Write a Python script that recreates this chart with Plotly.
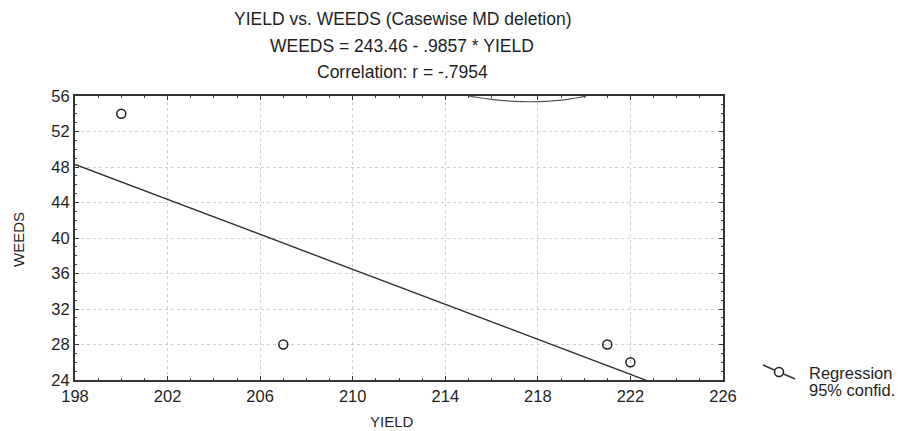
import plotly.graph_objects as go

# ---- data ----
yield_vals = [200, 207, 221, 222]
weeds_vals = [54, 28, 28, 26]
reg_intercept = 243.46
reg_slope = -0.9857
reg_x = [198, 226]
# visible part of the upper 95% confidence curve
conf_x = [215.0, 216.0, 217.0, 217.6, 218.5, 219.3, 220.1]
conf_upper = [56.0, 55.62, 55.40, 55.35, 55.42, 55.62, 56.0]
x_ticks = [198, 202, 206, 210, 214, 218, 222, 226]
y_ticks = [24, 28, 32, 36, 40, 44, 48, 52, 56]
title_lines = ["YIELD vs. WEEDS (Casewise MD deletion)",
               "WEEDS = 243.46 - .9857 * YIELD",
               "Correlation: r = -.7954"]
legend_labels = ["Regression", "95% confid."]

FONT = "Liberation Sans, Arial, sans-serif"
INK = "#1e1e1e"

W, H = 904, 431
L, R, T, B = 75, 723, 96, 380


def px_x(p):
    return (p - L) / (R - L)


def px_y(p):
    return (B - p) / (B - T)


fig = go.Figure()

fig.add_trace(go.Scatter(
    x=conf_x, y=conf_upper, mode="lines",
    line=dict(color="#555555", width=1.2, shape="spline"),
    hoverinfo="skip", showlegend=False))

fig.add_trace(go.Scatter(
    x=reg_x, y=[reg_intercept + reg_slope * v for v in reg_x], mode="lines",
    line=dict(color="#333333", width=1.4), showlegend=False))

fig.add_trace(go.Scatter(
    x=yield_vals, y=weeds_vals, mode="markers",
    marker=dict(symbol="circle-open", size=9, color=INK, line=dict(width=1.5)),
    showlegend=False))

axis_common = dict(
    showline=True, linecolor="#333333", linewidth=2, mirror="ticks",
    ticks="inside", ticklen=4, tickcolor="#333333", tickwidth=1.2,
    showgrid=True, gridcolor="#cfcfcf", griddash="dot", gridwidth=1,
    zeroline=False,
    tickfont=dict(family=FONT, size=16.5, color=INK),
    minor=dict(ticks="inside", ticklen=2, tickcolor="#444444", dtick=1, showgrid=False),
)

fig.update_xaxes(range=[198, 226], tickvals=x_ticks, **axis_common)
fig.update_yaxes(range=[24, 56], tickvals=y_ticks, **axis_common)

annotations = []
for i, (txt, yp) in enumerate(zip(title_lines, [19, 46, 72])):
    annotations.append(dict(
        text=txt, xref="paper", yref="paper", x=px_x(402), y=px_y(yp),
        xanchor="center", yanchor="middle", showarrow=False,
        font=dict(family=FONT, size=17.5, color=INK)))

annotations.append(dict(text="YIELD", xref="paper", yref="paper",
                        x=px_x(392), y=px_y(421), xanchor="center", yanchor="middle",
                        showarrow=False, font=dict(family=FONT, size=15, color=INK)))
annotations.append(dict(text="WEEDS", xref="paper", yref="paper",
                        x=px_x(18), y=px_y(240), xanchor="center", yanchor="middle",
                        textangle=-90, showarrow=False,
                        font=dict(family=FONT, size=15, color=INK)))

for txt, yp in zip(legend_labels, [373, 390]):
    annotations.append(dict(text=txt, xref="paper", yref="paper",
                            x=px_x(807), y=px_y(yp), xanchor="left", yanchor="middle",
                            showarrow=False, font=dict(family=FONT, size=16.5, color=INK)))

shapes = [
    dict(type="line", xref="paper", yref="paper",
         x0=px_x(763), y0=px_y(365), x1=px_x(795), y1=px_y(379),
         line=dict(color="#333333", width=1.4)),
    dict(type="circle", xref="paper", yref="paper",
         xsizemode="pixel", ysizemode="pixel",
         xanchor=px_x(779), yanchor=px_y(372),
         x0=-4.5, x1=4.5, y0=-4.5, y1=4.5,
         line=dict(color=INK, width=1.5), fillcolor="white"),
]

fig.update_layout(
    width=W, height=H,
    margin=dict(l=L, r=W - R, t=T, b=H - B),
    paper_bgcolor="white", plot_bgcolor="white",
    showlegend=False,
    annotations=annotations, shapes=shapes,
    font=dict(family=FONT, color=INK),
)

fig.write_html("out.html",
               config={"displayModeBar": False},
               post_script="document.body.style.margin='0px';document.body.style.overflow='hidden';")
